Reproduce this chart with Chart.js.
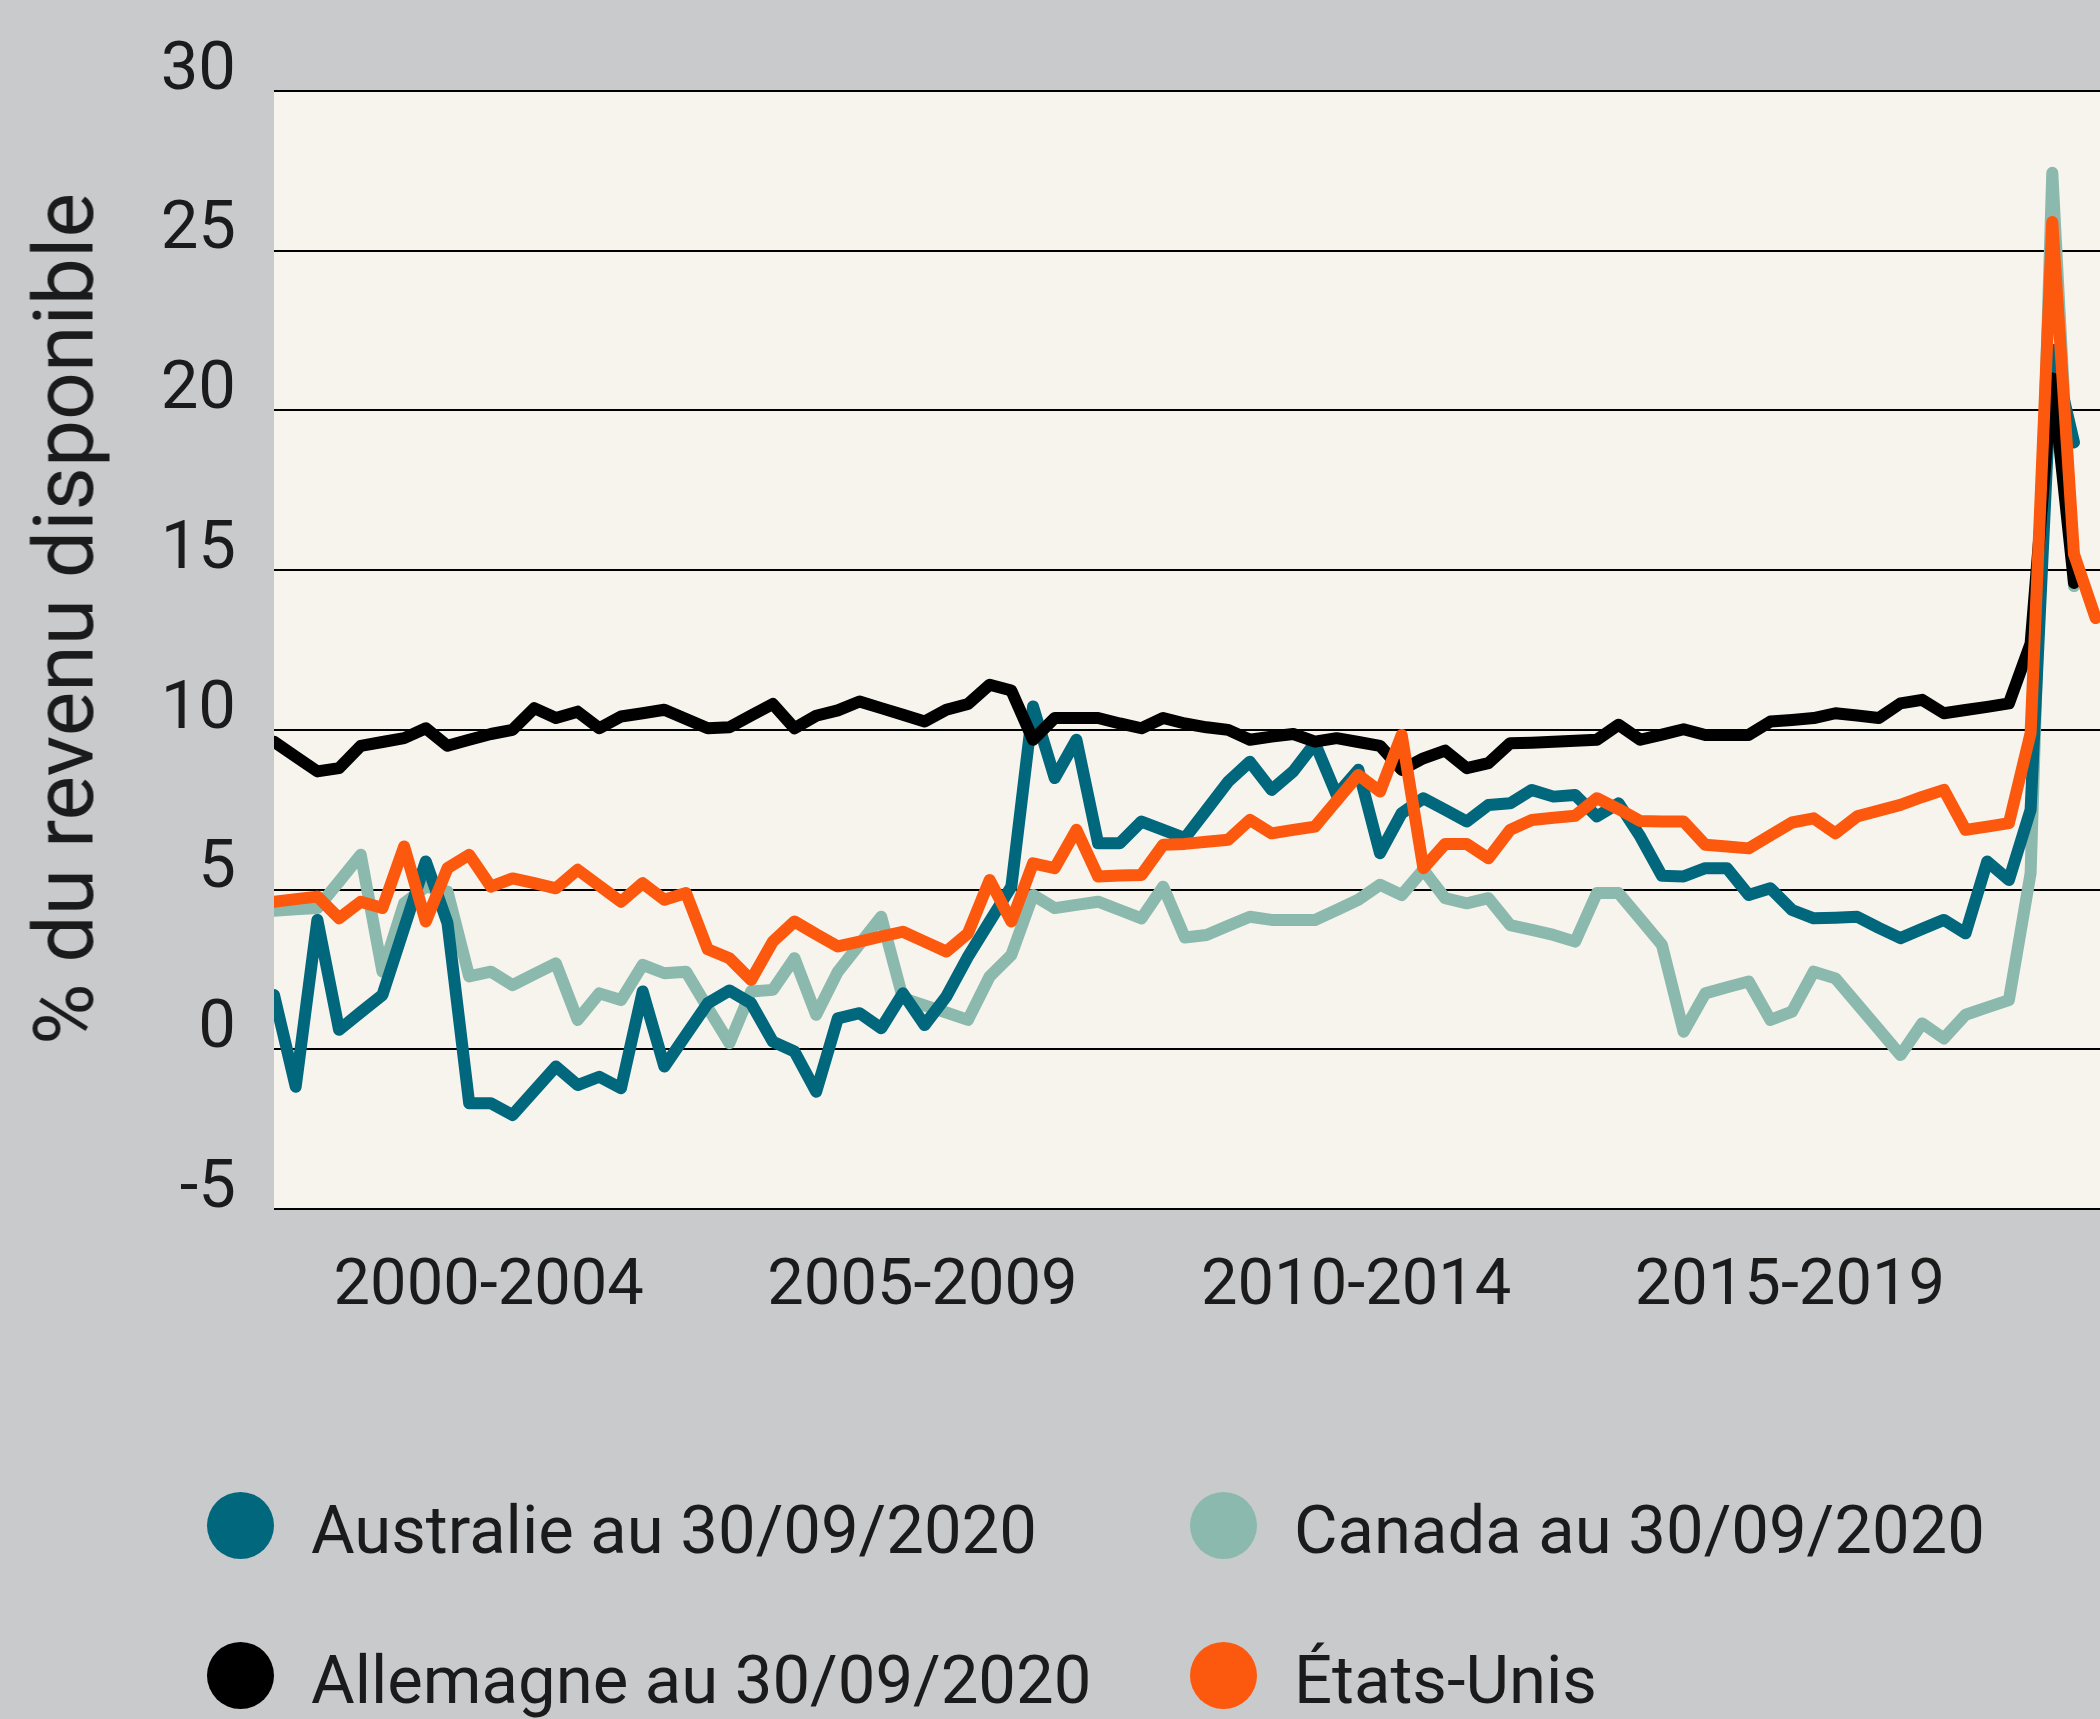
<!DOCTYPE html>
<html lang="fr">
<head>
<meta charset="utf-8">
<title>Taux d'épargne des ménages</title>
<script src="https://cdn.jsdelivr.net/npm/chart.js@4.4.1/dist/chart.umd.min.js"></script>
<style>
  html, body { margin: 0; padding: 0; }
  body {
    width: 2100px; height: 1719px; overflow: hidden; position: relative;
    background: #c9cacc; color: #1b1b1b;
    font-family: Roboto, "Liberation Sans", sans-serif;
  }
  #chartBox { position: absolute; left: 0; top: 0; width: 2100px; height: 1340px; }
  #yTitle {
    position: absolute; left: 64px; top: 619px;
    transform: translate(-50%, -50%) rotate(-90deg);
    font-size: 84px; white-space: nowrap;
  }
  #legend {
    position: absolute; left: 207px; top: 1492px;
    display: grid; grid-template-columns: 983px auto; row-gap: 83px;
  }
  .item { display: flex; align-items: center; height: 67px; font-size: 67px; white-space: nowrap; }
  .item span { padding-top: 8px; }
  .dot { width: 67px; height: 67px; border-radius: 50%; margin-right: 37px; flex: none; }
</style>
</head>
<body>
<div id="chartBox"><canvas id="savingsChart" width="2100" height="1340"></canvas></div>
<div id="yTitle">% du revenu disponible</div>
<div id="legend"></div>

<script>
// Taux d'épargne des ménages, un point par trimestre (indice 0 = premier trimestre du graphique)
const australie = [
  1.70, -1.17, 4.05, 0.61, 1.16, 1.70, 3.79, 5.88, 3.95, -1.69,
  -1.69, -2.06, -1.30, -0.54, -1.12, -0.86, -1.22, 1.81, -0.54, 0.45,
  1.44, 1.84, 1.44, 0.24, -0.07, -1.33, 0.97, 1.13, 0.66, 1.75,
  0.76, 1.65, 2.90, 4.00, 5.09, 10.73, 8.49, 9.69, 6.45, 6.45,
  7.13, 6.87, 6.61, 7.49, 8.38, 9.00, 8.12, 8.70, 9.58, 7.96,
  8.75, 6.14, 7.39, 7.86, 7.50, 7.13, 7.65, 7.70, 8.12, 7.91,
  7.96, 7.29, 7.70, 6.66, 5.43, 5.41, 5.67, 5.67, 4.83, 5.04,
  4.36, 4.10, 4.12, 4.15, 3.80, 3.48, 3.77, 4.05, 3.63, 5.88,
  5.30, 7.50, 21.90, 19.00
];
const canada = [
  4.34, 4.38, 4.42, 5.25, 6.09, 2.43, 4.57, 5.09, 4.94, 2.28,
  2.43, 2.01, 2.35, 2.69, 0.92, 1.75, 1.54, 2.64, 2.38, 2.43,
  1.30, 0.19, 1.81, 1.86, 2.85, 1.08, 2.43, 3.29, 4.15, 1.60,
  1.37, 1.15, 0.92, 2.28, 2.95, 4.83, 4.42, 4.52, 4.62, 4.36,
  4.10, 5.09, 3.50, 3.58, 3.87, 4.15, 4.05, 4.05, 4.05, 4.36,
  4.68, 5.15, 4.83, 5.62, 4.73, 4.57, 4.73, 3.89, 3.74, 3.58,
  3.37, 4.89, 4.89, 4.08, 3.27, 0.55, 1.75, 1.94, 2.12, 0.92,
  1.18, 2.43, 2.22, 1.42, 0.62, -0.18, 0.81, 0.34, 1.08, 1.31,
  1.54, 5.51, 27.44, 14.50
];
const allemagne = [
  9.63, 9.16, 8.70, 8.80, 9.50, 9.62, 9.74, 10.05, 9.50, 9.69,
  9.87, 10.00, 10.68, 10.37, 10.57, 10.05, 10.42, 10.52, 10.63, 10.34,
  10.05, 10.08, 10.45, 10.81, 10.05, 10.44, 10.61, 10.89, 10.68, 10.47,
  10.26, 10.63, 10.81, 11.41, 11.23, 9.69, 10.37, 10.37, 10.37, 10.20,
  10.05, 10.37, 10.20, 10.08, 10.00, 9.69, 9.79, 9.87, 9.63, 9.74,
  9.62, 9.50, 8.75, 9.11, 9.35, 8.80, 8.96, 9.58, 9.60, 9.63,
  9.66, 9.69, 10.16, 9.69, 9.85, 10.02, 9.84, 9.84, 9.84, 10.26,
  10.31, 10.37, 10.52, 10.45, 10.37, 10.83, 10.94, 10.52, 10.62, 10.72,
  10.83, 12.70, 21.00, 14.60
];
const etatsUnis = [
  4.62, 4.70, 4.78, 4.10, 4.62, 4.42, 6.35, 4.00, 5.67, 6.09,
  5.09, 5.35, 5.20, 5.04, 5.62, 5.12, 4.62, 5.20, 4.68, 4.89,
  3.13, 2.85, 2.17, 3.37, 4.00, 3.60, 3.22, 3.37, 3.53, 3.68,
  3.37, 3.06, 3.63, 5.30, 4.00, 5.82, 5.67, 6.87, 5.41, 5.44,
  5.46, 6.40, 6.43, 6.50, 6.56, 7.18, 6.76, 6.87, 6.97, 7.78,
  8.59, 8.07, 9.84, 5.67, 6.43, 6.43, 5.98, 6.87, 7.18, 7.25,
  7.31, 7.86, 7.52, 7.15, 7.13, 7.13, 6.40, 6.35, 6.29, 6.70,
  7.10, 7.23, 6.76, 7.29, 7.47, 7.65, 7.90, 8.12, 6.87, 6.97,
  7.08, 9.90, 25.90, 15.50, 13.50
];

// périodes de l'axe horizontal et trimestre au milieu de chacune
const periodLabels = ['2000-2004', '2005-2009', '2010-2014', '2015-2019'];
const periodTicks = [9.9, 29.9, 49.9, 69.9];

const series = [
  { label: 'Australie au 30/09/2020', values: australie, color: '#00677d', order: 3 },
  { label: 'Canada au 30/09/2020', values: canada, color: '#8cb9ad', order: 4 },
  { label: 'Allemagne au 30/09/2020', values: allemagne, color: '#000000', order: 2 },
  { label: 'États-Unis', values: etatsUnis, color: '#fc580e', order: 1 }
];

// fond crème de la zone de tracé
const plotBackground = {
  id: 'plotBackground',
  beforeDraw(chart) {
    const { ctx, chartArea } = chart;
    ctx.save();
    ctx.fillStyle = '#f7f4ed';
    ctx.fillRect(chartArea.left, chartArea.top, chartArea.right - chartArea.left, chartArea.bottom - chartArea.top);
    ctx.restore();
  }
};

function buildLegend() {
  const legend = document.getElementById('legend');
  series.forEach(s => {
    const item = document.createElement('div');
    item.className = 'item';
    item.innerHTML = '<div class="dot" style="background:' + s.color + '"></div><span>' + s.label + '</span>';
    legend.appendChild(item);
  });
}

function drawChart() {
  const ctx = document.getElementById('savingsChart').getContext('2d');
  new Chart(ctx, {
    type: 'line',
    data: {
      datasets: series.map(s => ({
        label: s.label,
        data: s.values.map((v, i) => ({ x: i, y: v })),
        borderColor: s.color,
        backgroundColor: s.color,
        borderWidth: 12,
        pointRadius: 0,
        tension: 0,
        borderJoinStyle: 'round',
        borderCapStyle: 'round',
        order: s.order
      }))
    },
    options: {
      responsive: false,
      animation: false,
      devicePixelRatio: 1,
      layout: { padding: { top: 91, right: 0, bottom: 0, left: 0 } },
      plugins: { legend: { display: false }, tooltip: { enabled: false } },
      scales: {
        x: {
          type: 'linear',
          min: 0,
          max: 84.2,
          grid: { display: false },
          border: { display: false },
          afterBuildTicks: axis => { axis.ticks = periodTicks.map(v => ({ value: v })); },
          afterFit: axis => { axis.height = 131; },
          ticks: {
            autoSkip: false,
            maxRotation: 0,
            padding: 32,
            color: '#1b1b1b',
            font: { family: 'Roboto', size: 65 },
            callback: (value, index) => periodLabels[index]
          }
        },
        y: {
          min: -5,
          max: 30,
          grid: { color: '#000000', lineWidth: 2, drawTicks: false },
          border: { display: false },
          afterFit: axis => { axis.width = 274; },
          ticks: {
            stepSize: 5,
            padding: 38,
            labelOffset: -19,
            color: '#1b1b1b',
            font: { family: 'Roboto', size: 67 }
          }
        }
      }
    },
    plugins: [plotBackground]
  });
}

buildLegend();
document.fonts.load('67px Roboto').then(drawChart, drawChart);
</script>
</body>
</html>
